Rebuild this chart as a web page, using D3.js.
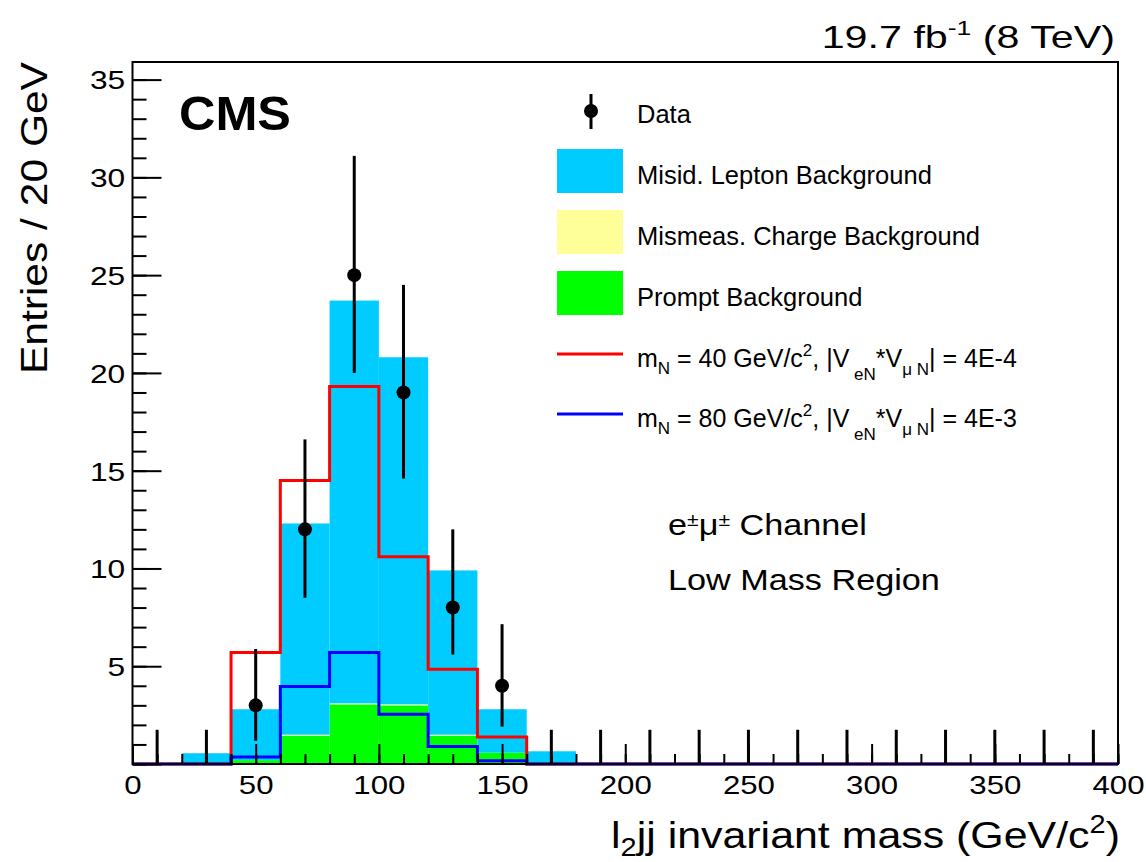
<!DOCTYPE html>
<html>
<head>
<meta charset="utf-8">
<script src="https://cdn.jsdelivr.net/npm/d3@7"></script>
<style>
  body { margin: 0; background: #fff; }
  text { font-family: "Liberation Sans", Arial, sans-serif; fill: #000; }
</style>
</head>
<body>
<svg></svg>
<script>
/* global d3 */

// Canvas size
let width = 1146,
    height = 862;

// Histogram bins (lower edges, 20 GeV wide)
let binLow = [0, 20, 40, 60, 80, 100, 120, 140, 160, 180,
              200, 220, 240, 260, 280, 300, 320, 340, 360, 380];
let binWidth = 20;

// Stacked backgrounds
let prompt  = [0, 0, 0.2, 1.45, 3.05, 3.0, 1.45, 0.58, 0, 0, 0, 0, 0, 0, 0, 0, 0, 0, 0, 0];
let mismeas = [0, 0, 0, 0.05, 0.05, 0.05, 0.05, 0, 0, 0, 0, 0, 0, 0, 0, 0, 0, 0, 0, 0];
let misid   = [0, 0.55, 2.6, 10.8, 20.6, 17.75, 8.4, 2.22, 0.65, 0, 0, 0, 0, 0, 0, 0, 0, 0, 0, 0];

// Signal hypotheses
let signal40 = [0, 0, 5.7, 14.5, 19.3, 10.6, 4.85, 1.38, 0, 0, 0, 0, 0, 0, 0, 0, 0, 0, 0, 0];
let signal80 = [0, 0, 0.36, 3.96, 5.7, 2.54, 0.89, 0.17, 0, 0, 0, 0, 0, 0, 0, 0, 0, 0, 0, 0];

// Observed data with Poisson error band (low / high)
let data   = [0, 0, 3, 12, 25, 19, 8, 4, 0, 0, 0, 0, 0, 0, 0, 0, 0, 0, 0, 0];
let dataLo = [0, 0, 1.19, 8.5, 20.0, 14.6, 5.6, 1.91, 0, 0, 0, 0, 0, 0, 0, 0, 0, 0, 0, 0];
let dataHi = [1.75, 1.75, 5.88, 16.6, 31.1, 24.5, 12.0, 7.15, 1.75, 1.75,
              1.75, 1.75, 1.75, 1.75, 1.75, 1.75, 1.75, 1.75, 1.75, 1.75];

// Axis ticks
let xMajor = [0, 50, 100, 150, 200, 250, 300, 350, 400];
let yMajor = [0, 5, 10, 15, 20, 25, 30, 35];

let colors = {
    misid: "#00ccff",
    mismeas: "#ffff99",
    prompt: "#00ff00",
    sig40: "#ff0000",
    sig80: "#0000ff"
};

let svg = d3.select("svg")
    .attr("width", width)
    .attr("height", height);

// Frame position
let frameL = 132.5, frameR = 1118, frameT = 62, frameB = 764;

let x = d3.scaleLinear().domain([0, 400]).range([frameL, frameR]);
let y = d3.scaleLinear().domain([0, 35.9]).range([frameB, frameT]);

// The plot's lettering is a little wider than Arial, so stretch it sideways
function wideText(px, py, sx, extra) {
    return svg.append("g")
        .attr("transform", `translate(${px},${py}) ${extra || ""} scale(${sx},1)`)
        .append("text");
}

// Stack the backgrounds: prompt at the bottom, misid on top
let rows = binLow.map((b, i) => ({
    low: b, prompt: prompt[i], mismeas: mismeas[i], misid: misid[i]
}));
let stack = d3.stack().keys(["prompt", "mismeas", "misid"])(rows);

svg.append("g").selectAll("g")
    .data(stack)
    .enter().append("g")
    .attr("fill", d => colors[d.key])
    .selectAll("rect")
    .data(d => d.filter(s => s[1] - s[0] > 0))
    .enter().append("rect")
    .attr("x", d => x(d.data.low))
    .attr("width", d => x(d.data.low + binWidth) - x(d.data.low))
    .attr("y", d => y(d[1]))
    .attr("height", d => y(d[0]) - y(d[1]));

// Step outlines for the signal histograms
let step = d3.line()
    .x(d => x(d[0]))
    .y(d => y(d[1]))
    .curve(d3.curveStepAfter);

function stepPoints(vals) {
    let pts = binLow.map((b, i) => [b, vals[i]]);
    pts.push([400, vals[vals.length - 1]]);
    return pts;
}

svg.append("path")
    .attr("d", step(stepPoints(signal40)))
    .attr("fill", "none")
    .attr("stroke", colors.sig40)
    .attr("stroke-width", 3);

svg.append("path")
    .attr("d", step(stepPoints(signal80)))
    .attr("fill", "none")
    .attr("stroke", colors.sig80)
    .attr("stroke-width", 3);

// Data points with error bars
let pts = binLow.map((b, i) => ({ c: b + binWidth / 2, v: data[i], lo: dataLo[i], hi: dataHi[i] }));

svg.append("g").selectAll("line")
    .data(pts)
    .enter().append("line")
    .attr("x1", d => x(d.c)).attr("x2", d => x(d.c))
    .attr("y1", d => y(d.lo)).attr("y2", d => y(d.hi))
    .attr("stroke", "#000")
    .attr("stroke-width", 3);

svg.append("g").selectAll("circle")
    .data(pts.filter(d => d.v > 0))
    .enter().append("circle")
    .attr("cx", d => x(d.c))
    .attr("cy", d => y(d.v))
    .attr("r", 7)
    .attr("fill", "#000");

// Axes with inward ticks
let xAxisMajor = d3.axisBottom(x).tickValues(xMajor).tickSize(-20).tickPadding(12)
    .tickFormat(d3.format("d"));
let xAxisMinor = d3.axisBottom(x).tickValues(x.ticks(40)).tickSize(-10).tickFormat("");

let gx = svg.append("g").attr("transform", `translate(0,${frameB})`).call(xAxisMajor);
svg.append("g").attr("transform", `translate(0,${frameB})`).call(xAxisMinor);

let yAxisMajor = d3.axisLeft(y).tickValues(yMajor).tickSize(-29).tickPadding(6)
    .tickFormat(d => d === 0 ? "" : d);
let yAxisMinor = d3.axisLeft(y).tickValues(d3.range(0, 36, 1)).tickSize(-14).tickFormat("");

let gy = svg.append("g").attr("transform", `translate(${frameL},0)`).call(yAxisMajor);
svg.append("g").attr("transform", `translate(${frameL},0)`).call(yAxisMinor);

svg.selectAll(".domain").remove();
svg.selectAll(".tick line").attr("stroke", "#000").attr("stroke-width", 2);
gx.selectAll("text").style("font-size", "26px").attr("fill", "#000")
    .attr("transform", "scale(1.2,1)");
gy.selectAll("text").style("font-size", "26px").attr("fill", "#000").attr("dy", "0.36em")
    .attr("transform", "scale(1.22,1)");

// Frame
svg.append("rect")
    .attr("x", frameL).attr("y", frameT)
    .attr("width", frameR - frameL).attr("height", frameB - frameT)
    .attr("fill", "none")
    .attr("stroke", "#000")
    .attr("stroke-width", 2);

// Titles
wideText(47, 62, 1.15, "rotate(-90)")
    .attr("text-anchor", "end")
    .style("font-size", "37px")
    .text("Entries / 20 GeV");

let xt = wideText(1120, 848, 1.16)
    .attr("text-anchor", "end")
    .style("font-size", "37px");
xt.append("tspan").text("l");
xt.append("tspan").attr("dy", 8).style("font-size", "25px").text("2");
xt.append("tspan").attr("dy", -8).text("jj invariant mass (GeV/c");
xt.append("tspan").attr("dy", -15).style("font-size", "25px").text("2");
xt.append("tspan").attr("dy", 15).text(")");

let lumi = wideText(1115, 48, 1.33)
    .attr("text-anchor", "end")
    .style("font-size", "31px");
lumi.append("tspan").text("19.7 fb");
lumi.append("tspan").attr("dy", -13).style("font-size", "20px").text("-1");
lumi.append("tspan").attr("dy", 13).text(" (8 TeV)");

wideText(179, 130, 1.05)
    .style("font-size", "48px")
    .style("font-weight", "bold")
    .text("CMS");

let ch = wideText(668, 535, 1.18)
    .style("font-size", "29px");
ch.append("tspan").text("e");
ch.append("tspan").attr("dy", -9).style("font-size", "18px").text("±");
ch.append("tspan").attr("dy", 9).text("μ");
ch.append("tspan").attr("dy", -9).style("font-size", "18px").text("±");
ch.append("tspan").attr("dy", 9).text(" Channel");

wideText(668, 590, 1.18)
    .style("font-size", "29px")
    .text("Low Mass Region");

// Legend
let legX = 557, legW = 66, legText = 637;
let legRows = [113, 171, 232, 293, 354, 414];

svg.append("line")
    .attr("x1", 591).attr("x2", 591)
    .attr("y1", legRows[0] - 19).attr("y2", legRows[0] + 16)
    .attr("stroke", "#000").attr("stroke-width", 3);
svg.append("circle")
    .attr("cx", 591).attr("cy", legRows[0] - 2).attr("r", 7).attr("fill", "#000");

[["misid", 1], ["mismeas", 2], ["prompt", 3]].forEach(([k, r]) => {
    svg.append("rect")
        .attr("x", legX).attr("y", legRows[r] - 22)
        .attr("width", legW).attr("height", 44)
        .attr("fill", colors[k]);
});

[["sig40", 4], ["sig80", 5]].forEach(([k, r]) => {
    svg.append("line")
        .attr("x1", legX).attr("x2", legX + legW)
        .attr("y1", legRows[r]).attr("y2", legRows[r])
        .attr("stroke", colors[k]).attr("stroke-width", 3);
});

let legLabels = ["Data", "Misid. Lepton Background", "Mismeas. Charge Background", "Prompt Background"];
legLabels.forEach((t, i) => {
    svg.append("text")
        .attr("x", legText).attr("y", legRows[i] + (i === 0 ? 10 : 13))
        .style("font-size", "25.5px")
        .text(t);
});

function signalLabel(row, mass, coupling) {
    let t = svg.append("text")
        .attr("x", legText).attr("y", legRows[row] + 13)
        .style("font-size", "25px");
    t.append("tspan").text("m");
    t.append("tspan").attr("dy", 7).style("font-size", "17px").text("N");
    t.append("tspan").attr("dy", -7).text(` = ${mass} GeV/c`);
    t.append("tspan").attr("dy", -11).style("font-size", "17px").text("2");
    t.append("tspan").attr("dy", 11).text(", |V");
    t.append("tspan").attr("dy", 13).style("font-size", "17px").text(" eN");
    t.append("tspan").attr("dy", -13).text("*V");
    t.append("tspan").attr("dy", 8).style("font-size", "17px").text("μ N");
    t.append("tspan").attr("dy", -8).text(`| = ${coupling}`);
}
signalLabel(4, 40, "4E-4");
signalLabel(5, 80, "4E-3");
</script>
</body>
</html>
